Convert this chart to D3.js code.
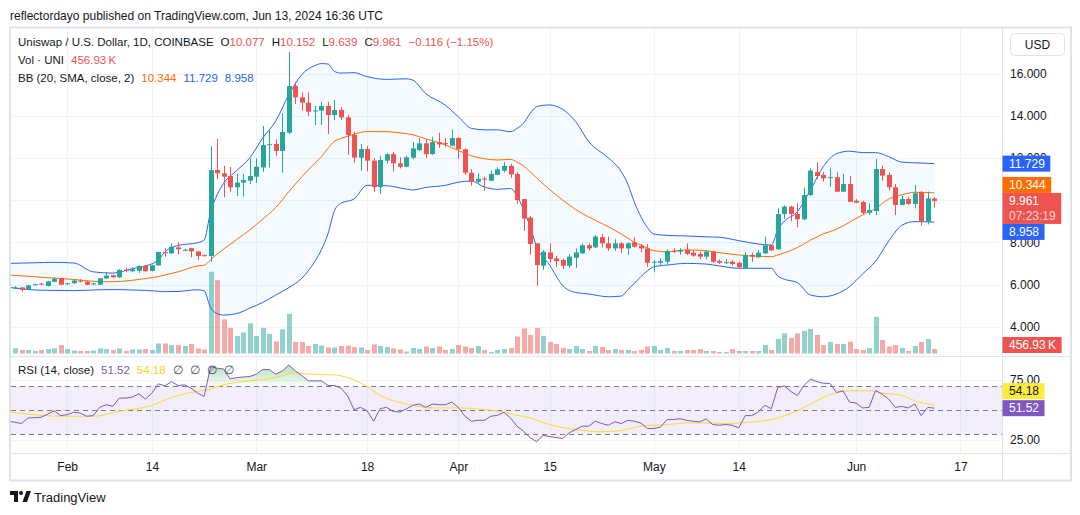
<!DOCTYPE html>
<html>
<head>
<meta charset="utf-8">
<script src="https://cdnjs.cloudflare.com/ajax/libs/d3/7.8.5/d3.min.js"></script>
<style>
  body { margin: 0; background: #ffffff; }
  svg { display: block; font-family: "Liberation Sans", Arial, sans-serif; }
</style>
</head>
<body>
<svg id="chart" width="1080" height="515"></svg>
<script>
// UNI / USD daily, Coinbase, Jan 24 - Jun 13 2024
var opens = [
  5.84, 5.86, 5.74, 6.00, 6.04, 5.93, 6.13, 6.31, 6.04, 6.06,
  6.18, 6.13, 6.03, 5.99, 6.29, 6.44, 6.34, 6.70, 6.63, 6.65,
  6.88, 6.65, 6.91, 7.53, 7.48, 7.76, 7.63, 7.72, 7.57, 7.39,
  7.35, 11.43, 11.27, 11.14, 10.61, 10.83, 10.92, 11.11, 11.55, 12.62,
  12.66, 12.33, 13.19, 15.41, 14.87, 14.62, 14.22, 14.24, 14.46, 14.03,
  14.27, 13.92, 13.09, 12.01, 12.42, 11.87, 10.61, 11.87, 12.18, 11.74,
  11.58, 12.01, 12.37, 12.69, 12.18, 12.75, 12.70, 12.58, 12.94, 12.41,
  11.30, 10.87, 11.02, 10.92, 11.20, 11.39, 11.62, 11.24, 10.05, 9.17,
  7.95, 6.89, 7.52, 7.24, 7.16, 6.89, 7.27, 7.48, 7.86, 7.76,
  8.24, 7.95, 7.71, 7.95, 7.71, 8.00, 7.84, 7.71, 7.06, 7.03,
  7.08, 7.60, 7.56, 7.64, 7.51, 7.45, 7.32, 7.56, 7.11, 7.04,
  7.08, 7.03, 6.77, 7.40, 7.29, 7.48, 7.86, 7.67, 9.34, 9.69,
  9.34, 9.09, 10.24, 11.33, 11.19, 11.07, 11.08, 10.40, 10.76, 9.97,
  9.91, 9.40, 9.48, 11.47, 11.19, 10.61, 9.77, 10.05, 9.82, 10.37,
  8.98, 10.077
];
var highs = [
  5.92, 5.88, 5.98, 6.03, 6.08, 6.17, 6.35, 6.33, 6.08, 6.26,
  6.25, 6.16, 6.09, 6.31, 6.58, 6.46, 6.72, 6.80, 6.82, 6.90,
  6.90, 6.93, 7.56, 7.72, 7.95, 8.00, 7.70, 7.74, 7.59, 7.42,
  12.56, 12.90, 11.63, 11.58, 11.24, 11.24, 11.98, 11.98, 13.51, 13.32,
  12.88, 14.11, 17.02, 15.61, 15.11, 15.11, 14.46, 14.66, 14.66, 14.74,
  14.40, 14.03, 13.24, 12.66, 12.56, 11.99, 12.10, 12.22, 12.29, 12.03,
  12.10, 12.75, 12.94, 12.88, 13.00, 13.19, 12.94, 13.35, 12.99, 12.45,
  11.46, 11.27, 11.11, 11.40, 11.55, 11.80, 11.72, 11.33, 10.05, 9.25,
  7.95, 7.63, 7.95, 7.36, 7.24, 7.44, 7.71, 7.95, 7.95, 8.35,
  8.40, 8.27, 8.14, 8.00, 8.00, 8.24, 7.92, 7.92, 7.16, 7.24,
  7.67, 7.72, 7.72, 7.95, 7.64, 7.56, 7.61, 7.61, 7.19, 7.20,
  7.16, 7.08, 7.52, 7.51, 7.64, 8.27, 7.90, 9.61, 9.75, 9.73,
  9.85, 10.60, 11.50, 11.79, 11.33, 11.51, 11.32, 11.24, 11.14, 10.05,
  9.97, 9.85, 11.95, 11.63, 11.32, 10.76, 10.20, 10.13, 10.72, 10.43,
  10.40, 10.152
];
var lows = [
  5.78, 5.66, 5.72, 5.97, 5.98, 5.90, 6.10, 5.97, 5.98, 6.04,
  6.10, 5.97, 5.98, 5.97, 6.27, 6.32, 6.30, 6.58, 6.60, 6.55,
  6.60, 6.62, 6.89, 7.32, 7.45, 7.44, 7.58, 7.29, 7.16, 7.32,
  7.08, 10.99, 10.13, 10.40, 10.19, 10.16, 10.76, 10.82, 11.34, 11.54,
  12.09, 11.30, 13.13, 14.55, 14.24, 13.98, 13.56, 13.56, 13.13, 13.79,
  13.80, 12.14, 11.77, 11.39, 11.36, 10.40, 10.30, 11.73, 11.35, 11.50,
  11.55, 11.93, 12.33, 12.00, 12.15, 12.48, 12.53, 12.55, 11.96, 11.19,
  10.68, 10.80, 10.45, 10.90, 11.18, 11.30, 11.05, 9.82, 8.54, 7.40,
  5.94, 6.69, 7.03, 6.84, 6.74, 6.79, 6.79, 7.44, 7.60, 7.72,
  7.76, 7.60, 7.60, 7.48, 7.40, 7.75, 7.52, 6.84, 6.58, 6.92,
  6.95, 7.48, 7.42, 7.40, 7.32, 7.20, 7.20, 7.02, 6.97, 6.97,
  6.90, 6.77, 6.75, 7.08, 7.27, 7.44, 7.59, 7.65, 9.10, 9.00,
  8.71, 9.05, 10.20, 11.00, 10.87, 10.63, 10.38, 10.38, 9.90, 9.85,
  9.34, 9.29, 9.29, 10.92, 10.45, 9.29, 9.75, 9.78, 9.61, 8.79,
  8.85, 9.639
];
var closes = [
  5.86, 5.74, 5.96, 6.01, 6.03, 6.15, 6.27, 5.99, 6.06, 6.19,
  6.16, 5.99, 6.05, 6.29, 6.42, 6.34, 6.69, 6.68, 6.72, 6.88,
  6.63, 6.91, 7.54, 7.50, 7.79, 7.67, 7.65, 7.57, 7.35, 7.37,
  11.42, 11.27, 11.11, 10.61, 10.83, 10.95, 11.14, 11.58, 12.61, 12.65,
  12.33, 13.23, 15.41, 14.87, 14.62, 14.19, 14.25, 14.46, 14.03, 14.27,
  13.92, 13.09, 12.01, 12.42, 11.87, 10.61, 11.90, 12.17, 11.74, 11.58,
  12.03, 12.45, 12.69, 12.18, 12.75, 12.64, 12.68, 12.94, 12.41, 11.30,
  10.87, 11.01, 11.00, 11.24, 11.46, 11.62, 11.22, 10.00, 9.12, 7.92,
  6.92, 7.55, 7.21, 7.11, 6.89, 7.32, 7.52, 7.86, 7.71, 8.27,
  7.95, 7.71, 7.95, 7.71, 7.95, 7.79, 7.71, 7.03, 7.08, 7.11,
  7.59, 7.58, 7.64, 7.45, 7.37, 7.32, 7.56, 7.08, 7.03, 7.06,
  6.97, 6.82, 7.40, 7.32, 7.51, 7.86, 7.62, 9.34, 9.69, 9.34,
  9.09, 10.24, 11.40, 11.14, 11.03, 11.09, 10.40, 10.76, 9.92, 9.88,
  9.40, 9.53, 11.47, 11.16, 10.61, 9.77, 10.05, 9.82, 10.32, 8.98,
  10.077, 9.961
];
// volume in thousands of UNI
var volumes = [
  530, 355, 355, 255, 355, 455, 510, 860, 455, 305,
  255, 255, 305, 510, 455, 355, 510, 255, 405, 405,
  455, 355, 1015, 1015, 860, 860, 760, 965, 510, 405,
  8270, 7410, 3450, 2590, 1780, 2130, 3050, 1780, 2590, 1980,
  1220, 2440, 4010, 1170, 1170, 760, 965, 810, 610, 610,
  760, 810, 660, 610, 355, 915, 760, 660, 530, 405,
  200, 560, 455, 710, 560, 710, 355, 455, 860, 710,
  560, 760, 355, 150, 355, 455, 560, 1725, 2540, 1880,
  2590, 1780, 1170, 965, 560, 455, 760, 455, 255, 760,
  660, 355, 455, 355, 355, 255, 355, 710, 760, 355,
  560, 255, 255, 355, 355, 455, 255, 255, 150, 150,
  455, 255, 255, 255, 255, 860, 355, 1470, 2030, 1570,
  2030, 2280, 2490, 1880, 860, 1170, 965, 965, 1200, 455,
  355, 560, 3700, 1370, 710, 860, 560, 255, 760, 1170,
  1470, 456.93
];

// Bollinger Bands (20, SMA, close, 2) read at these day offsets from Jan 24
var bbDays = [-1, 3, 6, 9, 12, 15, 18, 20, 22, 23, 25, 28, 29, 30, 31, 32, 34, 36, 38, 40,
  42, 44, 46, 47, 48, 49, 50, 52, 54, 57, 60, 61, 63, 66, 68, 70, 72, 74, 76, 77,
  78, 79, 80, 82, 84, 86, 88, 91, 93, 94, 95, 96, 97, 98, 100, 103, 106, 108, 111, 114,
  116, 117, 118, 120, 122, 124, 126, 128, 130, 132, 134, 136, 138, 141];
var bbUpper = [7.00, 7.03, 7.05, 7.02, 6.60, 6.54, 6.75, 6.88, 7.17, 7.55, 7.85, 7.98, 8.10, 9.45, 10.25, 10.80, 11.40, 12.00, 12.95, 13.75,
  15.00, 15.95, 16.38, 16.47, 16.45, 16.10, 16.02, 16.04, 15.85, 15.72, 15.75, 15.69, 15.05, 14.50, 13.95, 13.40, 13.33, 13.33, 13.24, 13.40,
  13.64, 14.10, 14.43, 14.51, 14.30, 13.72, 12.77, 12.00, 11.35, 10.75, 9.90, 9.21, 8.70, 8.39, 8.33, 8.30, 8.26, 8.24, 8.08, 7.92,
  7.87, 8.60, 9.00, 9.45, 10.48, 11.60, 12.20, 12.32, 12.25, 12.25, 12.06, 11.80, 11.77, 11.729];
var bbMid = [6.45, 6.37, 6.30, 6.24, 6.15, 6.13, 6.20, 6.28, 6.38, 6.45, 6.60, 6.88, 6.91, 7.17, 7.44, 7.68, 8.13, 8.58, 9.10, 9.65,
  10.40, 11.11, 11.75, 12.06, 12.45, 12.79, 12.92, 13.12, 13.25, 13.24, 13.15, 13.10, 12.90, 12.62, 12.35, 12.10, 11.96, 11.90, 11.93, 11.80,
  11.62, 11.35, 11.05, 10.50, 10.00, 9.55, 9.20, 8.74, 8.39, 8.20, 8.00, 7.87, 7.72, 7.60, 7.55, 7.64, 7.60, 7.51, 7.40, 7.34,
  7.32, 7.40, 7.50, 7.75, 8.10, 8.40, 8.62, 8.95, 9.30, 9.60, 10.05, 10.25, 10.37, 10.344];
var bbLower = [5.87, 5.74, 5.72, 5.71, 5.74, 5.76, 5.74, 5.72, 5.68, 5.66, 5.67, 5.75, 5.70, 4.90, 4.62, 4.55, 4.62, 4.88, 5.15, 5.50,
  5.85, 6.30, 7.10, 7.65, 8.40, 9.50, 9.85, 10.05, 10.70, 10.68, 10.52, 10.48, 10.60, 10.70, 10.85, 10.90, 10.62, 10.51, 10.55, 10.20,
  9.55, 8.75, 7.80, 6.92, 5.95, 5.62, 5.55, 5.42, 5.45, 5.75, 6.05, 6.37, 6.65, 6.84, 6.92, 7.00, 6.97, 6.88, 6.77, 6.77,
  6.77, 6.40, 6.25, 6.09, 5.50, 5.42, 5.55, 5.90, 6.50, 7.10, 8.05, 8.80, 8.98, 8.958];

// RSI (14, close), one value per day starting Jan 23
var rsiValues = [40.6, 39.8, 38.7, 43.4, 43.6, 43.9, 46.5, 49.4, 45.3, 46.1, 48.1, 47.5, 44.8, 45.3, 52.2, 54.4, 53.0, 59.9, 59.9, 60.8,
  63.5, 59.1, 64.1, 71.8, 70.1, 73.7, 70.4, 71.0, 68.2, 64.1, 61.3, 86.1, 84.8, 84.2, 75.9, 77.0, 77.5, 77.9, 79.8, 83.7,
  83.7, 79.8, 82.6, 87.5, 82.6, 78.7, 74.3, 74.3, 74.3, 70.4, 70.4, 68.2, 62.0, 50.3, 52.2, 49.4, 40.6, 51.1, 52.2, 48.9,
  48.3, 50.8, 53.9, 55.0, 52.2, 55.0, 54.4, 54.4, 56.6, 52.2, 44.8, 40.6, 41.4, 41.4, 44.8, 45.6, 48.1, 43.4, 36.5, 32.3,
  27.0, 23.5, 28.8, 27.9, 27.0, 26.3, 31.0, 33.7, 36.5, 36.5, 40.6, 38.7, 37.3, 40.1, 38.7, 41.4, 40.6, 39.2, 34.6, 34.6,
  35.7, 42.0, 42.0, 42.8, 41.4, 40.6, 40.1, 42.6, 37.9, 37.3, 37.9, 37.3, 35.1, 45.3, 45.3, 48.3, 53.9, 51.1, 68.8, 70.1,
  65.4, 62.1, 70.4, 75.7, 73.7, 72.3, 72.1, 64.6, 66.0, 56.6, 55.8, 51.7, 52.2, 66.3, 63.2, 59.1, 52.2, 53.0, 51.7, 55.0,
  45.3, 52.2, 51.52];
// RSI-based MA (14), read at these day offsets
var rsiMaDays = [-1, 3, 7, 12, 16, 21, 24, 27, 30, 32, 36, 40, 43, 45, 49, 51, 54, 56, 59, 62,
  64, 68, 72, 75, 77, 79, 80, 82, 86, 90, 93, 96, 100, 103, 106, 109, 111, 116, 120, 125,
  128, 131, 133, 136, 138, 141];
var rsiMa = [48.3, 46.1, 44.8, 44.8, 48.9, 53.9, 60.5, 64.6, 67.5, 71.0, 74.3, 77.0, 81.0, 80.0, 79.2, 77.0, 69.6, 62.1, 56.3, 53.0,
  51.7, 51.7, 50.3, 48.3, 45.6, 43.4, 41.5, 37.9, 33.7, 31.8, 32.9, 36.5, 37.9, 39.2, 39.2, 38.7, 39.2, 42.0, 49.4, 62.7,
  66.0, 66.0, 64.1, 62.1, 57.7, 54.18];

var timeTicks = ["2024-02-01", "2024-02-14", "2024-03-01", "2024-03-18", "2024-04-01", "2024-04-15", "2024-05-01", "2024-05-14", "2024-06-01", "2024-06-17"];
var timeTickLabels = ["Feb", "14", "Mar", "18", "Apr", "15", "May", "14", "Jun", "17"];
var priceTicks = [4, 6, 8, 12, 14, 16];   // 10.000 sits fully under the last-price tag
var rsiTicks = [25, 75];
var rsiLevels = [70, 50, 30];

var up = "#26a69a", down = "#ef5350", dark = "#131722";
var svg = d3.select("#chart");

var startDate = new Date(2024, 0, 24);
var dates = d3.timeDay.range(startDate, new Date(2024, 5, 14));
var parseDay = d3.timeParse("%Y-%m-%d");
function dayDate(k) { return d3.timeDay.offset(startDate, k); }

var left = 11, right = 1002, mainTop = 28, mainBottom = 356, rsiTop = 357, rsiBottom = 453;

var x = d3.scaleTime().domain([dates[0], dates[dates.length - 1]]).range([15, 934.3]);
var y = d3.scaleLinear().domain([4, 16]).range([326.7, 73.5]);
var yVol = d3.scaleLinear().domain([0, 8270]).range([353.5, 271.7]);
var yRsi = d3.scaleLinear().domain([25, 75]).range([440, 380]);

// clip areas + gradients
var defs = svg.append("defs");
function clip(id, x0, y0, w, h) {
  defs.append("clipPath").attr("id", id).append("rect")
    .attr("x", x0).attr("y", y0).attr("width", w).attr("height", h);
}
clip("clipMain", left, mainTop, right - left, mainBottom - mainTop);
clip("clipRsi", left, rsiTop, right - left, rsiBottom - rsiTop);
clip("clipOver", left, rsiTop, right - left, yRsi(70) - rsiTop);
clip("clipUnder", left, yRsi(30), right - left, rsiBottom - yRsi(30));

var gOver = defs.append("linearGradient").attr("id", "gradOver")
  .attr("gradientUnits", "userSpaceOnUse").attr("x1", 0).attr("x2", 0)
  .attr("y1", yRsi(100)).attr("y2", yRsi(70));
gOver.append("stop").attr("offset", 0).attr("stop-color", "#4caf50").attr("stop-opacity", 0.7);
gOver.append("stop").attr("offset", 1).attr("stop-color", "#4caf50").attr("stop-opacity", 0.03);
var gUnder = defs.append("linearGradient").attr("id", "gradUnder")
  .attr("gradientUnits", "userSpaceOnUse").attr("x1", 0).attr("x2", 0)
  .attr("y1", yRsi(30)).attr("y2", yRsi(0));
gUnder.append("stop").attr("offset", 0).attr("stop-color", "#f23645").attr("stop-opacity", 0.03);
gUnder.append("stop").attr("offset", 1).attr("stop-color", "#f23645").attr("stop-opacity", 0.7);

// grid
var grid = svg.append("g").attr("stroke", "#f0f3fa").attr("stroke-width", 1);
grid.selectAll("line.h").data([4, 6, 8, 10, 12, 14, 16]).enter().append("line")
  .attr("x1", left).attr("x2", right)
  .attr("y1", d => Math.round(y(d)) + 0.5).attr("y2", d => Math.round(y(d)) + 0.5);
grid.selectAll("line.r").data(rsiTicks).enter().append("line")
  .attr("x1", left).attr("x2", right)
  .attr("y1", d => Math.round(yRsi(d)) + 0.5).attr("y2", d => Math.round(yRsi(d)) + 0.5);
grid.selectAll("line.v").data(timeTicks).enter().append("line")
  .attr("x1", d => Math.round(x(parseDay(d))) + 0.5).attr("x2", d => Math.round(x(parseDay(d))) + 0.5)
  .attr("y1", mainTop).attr("y2", rsiBottom);

// ---- main pane
var main = svg.append("g").attr("clip-path", "url(#clipMain)");

// volume
main.append("g").selectAll("rect").data(dates).enter().append("rect")
  .attr("x", d => Math.round(x(d)) - 2)
  .attr("width", 5)
  .attr("y", (d, i) => yVol(volumes[i]))
  .attr("height", (d, i) => yVol(0) - yVol(volumes[i]))
  .attr("fill", (d, i) => closes[i] >= opens[i] ? up : down)
  .attr("fill-opacity", 0.5);

// bollinger bands
var bb = bbDays.map(function(k, j) {
  return { date: dayDate(k), u: bbUpper[j], m: bbMid[j], l: bbLower[j] };
});
main.append("path").datum(bb)
  .attr("fill", "#2196f3").attr("fill-opacity", 0.05)
  .attr("d", d3.area().curve(d3.curveMonotoneX)
    .x(d => x(d.date)).y0(d => y(d.l)).y1(d => y(d.u)));
[["u", "#2962ff"], ["m", "#ff6d00"], ["l", "#2962ff"]].forEach(function(s) {
  main.append("path").datum(bb)
    .attr("fill", "none").attr("stroke", s[1]).attr("stroke-width", 1)
    .attr("d", d3.line().curve(d3.curveMonotoneX).x(d => x(d.date)).y(d => y(d[s[0]])));
});

// candles
main.append("g").selectAll("line").data(dates).enter().append("line")
  .attr("x1", d => Math.round(x(d)) + 0.5).attr("x2", d => Math.round(x(d)) + 0.5)
  .attr("y1", (d, i) => y(highs[i])).attr("y2", (d, i) => y(lows[i]))
  .attr("stroke", (d, i) => closes[i] >= opens[i] ? up : down);
main.append("g").selectAll("rect").data(dates).enter().append("rect")
  .attr("x", d => Math.round(x(d)) - 2)
  .attr("width", 5)
  .attr("y", (d, i) => y(Math.max(opens[i], closes[i])))
  .attr("height", (d, i) => Math.max(1, Math.abs(y(opens[i]) - y(closes[i]))))
  .attr("fill", (d, i) => closes[i] >= opens[i] ? up : down);

// ---- RSI pane
var rsiPane = svg.append("g").attr("clip-path", "url(#clipRsi)");
rsiPane.append("rect")
  .attr("x", left).attr("width", right - left)
  .attr("y", yRsi(70)).attr("height", yRsi(30) - yRsi(70))
  .attr("fill", "#7e57c2").attr("fill-opacity", 0.1);
rsiPane.selectAll("line.lvl").data(rsiLevels).enter().append("line")
  .attr("x1", left).attr("x2", right)
  .attr("y1", d => Math.round(yRsi(d)) + 0.5).attr("y2", d => Math.round(yRsi(d)) + 0.5)
  .attr("stroke", "#787b86").attr("stroke-dasharray", "5,4");

var rsi = rsiValues.map((v, j) => ({ date: dayDate(j - 1), v: v }));
rsiPane.append("g").attr("clip-path", "url(#clipOver)").append("path").datum(rsi)
  .attr("fill", "url(#gradOver)")
  .attr("d", d3.area().x(d => x(d.date)).y0(yRsi(70)).y1(d => yRsi(d.v)));
rsiPane.append("g").attr("clip-path", "url(#clipUnder)").append("path").datum(rsi)
  .attr("fill", "url(#gradUnder)")
  .attr("d", d3.area().x(d => x(d.date)).y0(yRsi(30)).y1(d => yRsi(d.v)));

var rsiMaPts = rsiMaDays.map((k, j) => ({ date: dayDate(k), v: rsiMa[j] }));
rsiPane.append("path").datum(rsiMaPts)
  .attr("fill", "none").attr("stroke", "#fdd835").attr("stroke-width", 1)
  .attr("d", d3.line().curve(d3.curveMonotoneX).x(d => x(d.date)).y(d => yRsi(d.v)));
rsiPane.append("path").datum(rsi)
  .attr("fill", "none").attr("stroke", "#7e57c2").attr("stroke-width", 1)
  .attr("d", d3.line().x(d => x(d.date)).y(d => yRsi(d.v)));

// ---- frame
var frame = svg.append("g").attr("fill", "none").attr("stroke", "#e0e3eb");
frame.append("rect").attr("x", 10).attr("y", 27.5).attr("width", 1061).attr("height", 453)
  .attr("stroke-width", 2);
frame.append("line").attr("x1", 1002.5).attr("x2", 1002.5).attr("y1", 27).attr("y2", 481);
frame.append("line").attr("x1", 10).attr("x2", 1071).attr("y1", 453.5).attr("y2", 453.5);
frame.append("line").attr("x1", 10).attr("x2", 1071).attr("y1", 356.5).attr("y2", 356.5);

// ---- axes
var xAxis = svg.append("g").attr("transform", "translate(0,467)")
  .call(d3.axisBottom(x).tickValues(timeTicks.map(parseDay))
    .tickFormat((d, i) => timeTickLabels[i]).tickSize(0));
xAxis.select(".domain").remove();
xAxis.selectAll("text").attr("y", 0).attr("dy", "0.35em")
  .attr("fill", dark).attr("font-size", 12).attr("font-family", null);

var yAxis = svg.append("g").attr("transform", "translate(1002,0)")
  .call(d3.axisRight(y).tickValues(priceTicks).tickFormat(d3.format(".3f")).tickSize(0).tickPadding(8));
yAxis.select(".domain").remove();
yAxis.selectAll("text").attr("fill", dark).attr("font-size", 12).attr("font-family", null);

var rAxis = svg.append("g").attr("transform", "translate(1002,0)")
  .call(d3.axisRight(yRsi).tickValues(rsiTicks).tickFormat(d3.format(".2f")).tickSize(0).tickPadding(8));
rAxis.select(".domain").remove();
rAxis.selectAll("text").attr("fill", dark).attr("font-size", 12).attr("font-family", null);

// ---- axis value labels
function tag(yTop, h, lines, bg, fg) {
  var g = svg.append("g");
  var r = g.append("rect").attr("x", 1002.5).attr("y", yTop).attr("height", h).attr("fill", bg);
  var w = 0;
  lines.forEach(function(s, k) {
    var t = g.append("text").attr("x", 1009).attr("y", yTop + 8 + k * 14.5).attr("dy", "0.35em")
      .attr("font-size", 12).attr("fill", fg).attr("fill-opacity", k ? 0.75 : 1).text(s);
    w = Math.max(w, t.node().getComputedTextLength());
  });
  r.attr("width", w + 12);
}
var last = dates.length - 1;
var closeTop = y(closes[last]) - 8, closeH = 31;
var lowTop = Math.max(y(bbLower[bbLower.length - 1]) - 8, closeTop + closeH);
var midTop = Math.min(y(bbMid[bbMid.length - 1]) - 8, closeTop - 16);
tag(y(bbUpper[bbUpper.length - 1]) - 8, 16, [d3.format(".3f")(bbUpper[bbUpper.length - 1])], "#2962ff", "#ffffff");
tag(midTop, 16, [d3.format(".3f")(bbMid[bbMid.length - 1])], "#ff6d00", "#ffffff");
tag(closeTop, closeH, [d3.format(".3f")(closes[last]), "07:23:19"], "#ef5350", "#ffffff");
tag(lowTop, 16, [d3.format(".3f")(bbLower[bbLower.length - 1])], "#2962ff", "#ffffff");
tag(yVol(volumes[last]) - 12, 16, [d3.format(".2f")(volumes[last]) + "\u202FK"], "#ef5350", "#ffffff");
var rsiLast = rsiValues[rsiValues.length - 1], maLast = rsiMa[rsiMa.length - 1];
var rsiTop2 = yRsi(rsiLast) - 8;
tag(rsiTop2, 16, [d3.format(".2f")(rsiLast)], "#7e57c2", "#ffffff");
tag(Math.min(yRsi(maLast) - 8, rsiTop2 - 17), 16, [d3.format(".2f")(maLast)], "#ffeb3b", dark);

// USD button
svg.append("rect").attr("x", 1010.5).attr("y", 33.5).attr("width", 54).attr("height", 22).attr("rx", 4)
  .attr("fill", "#ffffff").attr("stroke", "#e0e3eb");
svg.append("text").attr("x", 1037.5).attr("y", 44.5).attr("dy", "0.35em").attr("text-anchor", "middle")
  .attr("font-size", 12).attr("fill", dark).text("USD");

// ---- legends: groups laid out left to right
function legendRow(x0, y0, groups, gap, size) {
  var cx = x0;
  groups.forEach(function(parts) {
    var t = svg.append("text").attr("x", cx).attr("y", y0).attr("dy", "0.35em").attr("font-size", size || 11.5);
    parts.forEach(function(p) { t.append("tspan").attr("fill", p[1]).text(p[0]); });
    cx += t.node().getComputedTextLength() + gap;
  });
}
var f3 = d3.format(".3f"), f2 = d3.format(".2f");
var chg = closes[last] - closes[last - 1];

svg.append("text").attr("x", 10).attr("y", 15.5).attr("dy", "0.35em").attr("font-size", 13)
  .attr("fill", dark).attr("textLength", 373).attr("lengthAdjust", "spacingAndGlyphs")
  .text("reflectordayo published on TradingView.com, Jun 13, 2024 16:36 UTC");

legendRow(18, 42, [
  [["Uniswap / U.S. Dollar, 1D, COINBASE", dark]],
  [["O", dark], [f3(opens[last]), down]],
  [["H", dark], [f3(highs[last]), down]],
  [["L", dark], [f3(lows[last]), down]],
  [["C", dark], [f3(closes[last]), down]],
  [[f3(chg) + " (" + f2(chg / closes[last - 1] * 100) + "%)", down]]
], 7);
legendRow(18, 60, [
  [["Vol \u00b7 UNI", dark]],
  [[f2(volumes[last]) + "\u202FK", down]]
], 7);
legendRow(18, 77.5, [
  [["BB (20, SMA, close, 2)", dark]],
  [[f3(bbMid[bbMid.length - 1]), "#ff6d00"]],
  [[f3(bbUpper[bbUpper.length - 1]), "#2962ff"]],
  [[f3(bbLower[bbLower.length - 1]), "#2962ff"]]
], 7);
legendRow(18, 370, [
  [["RSI (14, close)", dark]],
  [[f2(rsiLast), "#7e57c2"]],
  [[f2(maLast), "#f9d71c"]],
  [["\u2205", "#4a4e59"]], [["\u2205", "#4a4e59"]], [["\u2205", "#4a4e59"]], [["\u2205", "#4a4e59"]]
], 7);

// TradingView logo
var logo = svg.append("g").attr("transform", "translate(10,491)").attr("fill", dark);
logo.append("path").attr("d", "M0 0 H8 V11 H4 V4 H0 Z");
logo.append("circle").attr("cx", 11).attr("cy", 2).attr("r", 2);
logo.append("path").attr("d", "M12.5 11 L16.5 0 H21 L17 11 Z");
svg.append("text").attr("x", 34).attr("y", 497).attr("dy", "0.35em").attr("font-size", 13)
  .attr("fill", dark).text("TradingView");
</script>
</body>
</html>
